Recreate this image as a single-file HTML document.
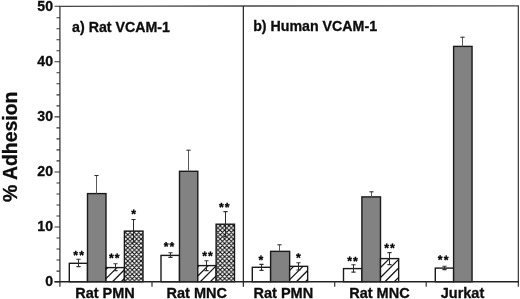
<!DOCTYPE html>
<html lang="en"><head><meta charset="utf-8"><title>% Adhesion</title>
<style>
html,body{margin:0;padding:0;background:#fff;}
body{width:520px;height:299px;overflow:hidden;}
svg{display:block;}
text{font-family:"Liberation Sans",Arial,Helvetica,sans-serif;font-weight:bold;fill:#0d0d0d;stroke:#0d0d0d;stroke-width:0.3px;}
text.s{stroke:#000;stroke-width:0.35px;stroke-linejoin:miter;fill:#000;}
</style></head><body>
<svg width="520" height="299" viewBox="0 0 520 299">
<defs>
<pattern id="xh" width="4.4" height="4.4" patternUnits="userSpaceOnUse" patternTransform="translate(215.8 225.8)">
<rect width="4.4" height="4.4" fill="#fff"/>
<path d="M-1 5.4 L5.4 -1 M-1 -1 L5.4 5.4 M-1 3.4 L1 5.4 M3.4 -1 L5.4 1 M-1 1 L1 -1 M3.4 5.4 L5.4 3.4" stroke="#0a0a0a" stroke-width="1.05" fill="none"/>
</pattern>
</defs>
<rect width="520" height="299" fill="#fff"/>

<path d="M59.20 6.3 L150 6.05 L518.35 5.9 V286.7" fill="none" stroke="#444" stroke-width="1.3"/>
<path d="M59.9 6.3 V286.7" fill="none" stroke="#484848" stroke-width="1.4"/>
<path d="M243.35 5.9 V286.7" fill="none" stroke="#2a2a2a" stroke-width="1.25"/>
<path d="M54.5 281.70H59.9M56.5 271.08H59.9M56.5 260.07H59.9M56.5 249.05H59.9M56.5 238.04H59.9M54.5 227.02H59.9M56.5 216.00H59.9M56.5 204.99H59.9M56.5 193.97H59.9M56.5 182.96H59.9M54.5 171.94H59.9M56.5 160.92H59.9M56.5 149.91H59.9M56.5 138.89H59.9M56.5 127.88H59.9M54.5 116.86H59.9M56.5 105.84H59.9M56.5 94.83H59.9M56.5 83.81H59.9M56.5 72.80H59.9M54.5 61.78H59.9M56.5 50.76H59.9M56.5 39.75H59.9M56.5 28.73H59.9M56.5 17.72H59.9M54.5 6.30H59.9" fill="none" stroke="#333" stroke-width="1.1"/>
<path d="M152.0 281.7V286.7M334.7 281.7V286.7M426.2 281.7V286.7" fill="none" stroke="#333" stroke-width="1.2"/>
<text x="53" y="286.3" font-size="14.1" text-anchor="end">0</text>
<text x="53" y="231.2" font-size="14.1" text-anchor="end">10</text>
<text x="53" y="176.1" font-size="14.1" text-anchor="end">20</text>
<text x="53" y="121.1" font-size="14.1" text-anchor="end">30</text>
<text x="53" y="66.0" font-size="14.1" text-anchor="end">40</text>
<text x="53" y="10.9" font-size="14.1" text-anchor="end">50</text>
<rect x="69.30" y="263.30" width="18.20" height="18.40" fill="#fff" stroke="#1a1a1a" stroke-width="1.4"/>
<rect x="87.50" y="193.60" width="18.50" height="88.10" fill="#828282" stroke="#1a1a1a" stroke-width="1.4"/>
<rect x="106.00" y="267.60" width="18.40" height="14.10" fill="#fff" stroke="#1a1a1a" stroke-width="1.4"/>
<path d="M106.0 269.3L107.7 267.6M106.0 278.6L117.0 267.6M112.5 281.7L124.4 269.8M121.2 281.7L124.4 278.5" fill="none" stroke="#161616" stroke-width="1.3"/>
<rect x="124.40" y="231.10" width="18.60" height="50.60" fill="url(#xh)" stroke="#1a1a1a" stroke-width="1.4"/>
<rect x="161.00" y="255.40" width="18.50" height="26.30" fill="#fff" stroke="#1a1a1a" stroke-width="1.4"/>
<rect x="179.50" y="171.30" width="18.30" height="110.40" fill="#828282" stroke="#1a1a1a" stroke-width="1.4"/>
<rect x="197.80" y="265.60" width="18.30" height="16.10" fill="#fff" stroke="#1a1a1a" stroke-width="1.4"/>
<path d="M197.8 266.7L198.9 265.6M197.8 276.0L208.2 265.6M200.3 281.7L216.1 265.9M210.3 281.7L216.1 275.9" fill="none" stroke="#161616" stroke-width="1.3"/>
<rect x="216.10" y="224.20" width="18.40" height="57.50" fill="url(#xh)" stroke="#1a1a1a" stroke-width="1.4"/>
<rect x="252.30" y="267.30" width="18.30" height="14.40" fill="#fff" stroke="#1a1a1a" stroke-width="1.4"/>
<rect x="270.60" y="251.35" width="19.05" height="30.35" fill="#828282" stroke="#1a1a1a" stroke-width="1.4"/>
<rect x="289.65" y="266.35" width="18.00" height="15.35" fill="#fff" stroke="#1a1a1a" stroke-width="1.4"/>
<path d="M289.65 270.35L293.65 266.35M289.65 279.65L302.95 266.35M296.4 281.7L307.65 270.45M305.5 281.7L307.65 279.55" fill="none" stroke="#161616" stroke-width="1.3"/>
<rect x="343.50" y="268.60" width="18.40" height="13.10" fill="#fff" stroke="#1a1a1a" stroke-width="1.4"/>
<rect x="361.90" y="196.90" width="18.60" height="84.80" fill="#828282" stroke="#1a1a1a" stroke-width="1.4"/>
<rect x="380.50" y="258.60" width="18.15" height="23.10" fill="#fff" stroke="#1a1a1a" stroke-width="1.4"/>
<path d="M380.5 267.5L389.4 258.6M380.5 277.5L398.65 259.35M384.9 281.7L398.65 267.95M394.3 281.7L398.65 277.35" fill="none" stroke="#161616" stroke-width="1.3"/>
<rect x="435.30" y="268.10" width="18.30" height="13.60" fill="#fff" stroke="#1a1a1a" stroke-width="1.4"/>
<rect x="453.60" y="46.40" width="18.45" height="235.30" fill="#828282" stroke="#1a1a1a" stroke-width="1.4"/>
<path d="M78.5 259.3V266.6" fill="none" stroke="#2a2a2a" stroke-width="1.0"/>
<path d="M76.4 259.3h4.2M76.4 266.6h4.2" fill="none" stroke="#333" stroke-width="1.1"/>
<text class="s" transform="translate(78.60,259.20) rotate(0.6)" x="-5.25 0.55" y="0" font-size="12.0">**</text>
<path d="M96.5 175.5V193.6" fill="none" stroke="#5a5a5a" stroke-width="1.0"/>
<path d="M94.4 175.5h4.2" fill="none" stroke="#333" stroke-width="1.1"/>
<path d="M115.5 263.8V270.6" fill="none" stroke="#2a2a2a" stroke-width="1.0"/>
<path d="M113.4 263.8h4.2M113.4 270.6h4.2" fill="none" stroke="#333" stroke-width="1.1"/>
<text class="s" transform="translate(114.30,262.05) rotate(0.6)" x="-5.25 0.55" y="0" font-size="12.0">**</text>
<path d="M133.5 219.5V242.2" fill="none" stroke="#2a2a2a" stroke-width="1.0"/>
<path d="M131.4 219.5h4.2M131.4 242.2h4.2" fill="none" stroke="#333" stroke-width="1.1"/>
<text class="s" transform="translate(133.60,218.05) rotate(0.6)" x="-2.35" y="0" font-size="12.0">*</text>
<path d="M170.5 252.8V257.4" fill="none" stroke="#2a2a2a" stroke-width="1.0"/>
<path d="M168.4 252.8h4.2M168.4 257.4h4.2" fill="none" stroke="#333" stroke-width="1.1"/>
<text class="s" transform="translate(168.90,250.55) rotate(0.6)" x="-5.25 0.55" y="0" font-size="12.0">**</text>
<path d="M188.5 150.2V171.3" fill="none" stroke="#5a5a5a" stroke-width="1.0"/>
<path d="M186.4 150.2h4.2" fill="none" stroke="#333" stroke-width="1.1"/>
<path d="M206.5 260.8V270.6" fill="none" stroke="#2a2a2a" stroke-width="1.0"/>
<path d="M204.4 260.8h4.2M204.4 270.6h4.2" fill="none" stroke="#333" stroke-width="1.1"/>
<text class="s" transform="translate(207.40,260.05) rotate(0.6)" x="-5.25 0.55" y="0" font-size="12.0">**</text>
<path d="M225.5 211.6V236.6" fill="none" stroke="#2a2a2a" stroke-width="1.0"/>
<path d="M223.4 211.6h4.2M223.4 236.6h4.2" fill="none" stroke="#333" stroke-width="1.1"/>
<text class="s" transform="translate(224.20,211.35) rotate(0.6)" x="-5.25 0.55" y="0" font-size="12.0">**</text>
<path d="M261.5 264.4V270.4" fill="none" stroke="#2a2a2a" stroke-width="1.0"/>
<path d="M259.4 264.4h4.2M259.4 270.4h4.2" fill="none" stroke="#333" stroke-width="1.1"/>
<text class="s" transform="translate(260.90,263.95) rotate(0.6)" x="-2.35" y="0" font-size="12.0">*</text>
<path d="M279.5 244.8V251.3" fill="none" stroke="#5a5a5a" stroke-width="1.0"/>
<path d="M277.4 244.8h4.2" fill="none" stroke="#333" stroke-width="1.1"/>
<path d="M298.5 262.7V270.0" fill="none" stroke="#2a2a2a" stroke-width="1.0"/>
<path d="M296.4 262.7h4.2M296.4 270.0h4.2" fill="none" stroke="#333" stroke-width="1.1"/>
<text class="s" transform="translate(298.40,261.65) rotate(0.6)" x="-2.35" y="0" font-size="12.0">*</text>
<path d="M353.5 264.8V272.1" fill="none" stroke="#2a2a2a" stroke-width="1.0"/>
<path d="M351.4 264.8h4.2M351.4 272.1h4.2" fill="none" stroke="#333" stroke-width="1.1"/>
<text class="s" transform="translate(352.50,265.15) rotate(0.6)" x="-5.25 0.55" y="0" font-size="12.0">**</text>
<path d="M371.5 191.8V196.9" fill="none" stroke="#5a5a5a" stroke-width="1.0"/>
<path d="M369.4 191.8h4.2" fill="none" stroke="#333" stroke-width="1.1"/>
<path d="M389.5 252.6V264.6" fill="none" stroke="#2a2a2a" stroke-width="1.0"/>
<path d="M387.4 252.6h4.2M387.4 264.6h4.2" fill="none" stroke="#333" stroke-width="1.1"/>
<text class="s" transform="translate(389.40,252.05) rotate(0.6)" x="-5.25 0.55" y="0" font-size="12.0">**</text>
<path d="M444.5 266.3V269.6" fill="none" stroke="#2a2a2a" stroke-width="1.0"/>
<path d="M442.4 266.3h4.2M442.4 269.6h4.2" fill="none" stroke="#333" stroke-width="1.1"/>
<text class="s" transform="translate(443.10,263.90) rotate(0.6)" x="-5.25 0.55" y="0" font-size="12.0">**</text>
<path d="M462.5 37.2V46.4" fill="none" stroke="#5a5a5a" stroke-width="1.0"/>
<path d="M460.4 37.2h4.2" fill="none" stroke="#333" stroke-width="1.1"/>
<path d="M54.5 281.7 H518.95" fill="none" stroke="#222" stroke-width="1.5"/>
<text x="105.0" y="297.6" font-size="14.5" text-anchor="middle">Rat PMN</text>
<text x="196.7" y="297.6" font-size="14.5" text-anchor="middle">Rat MNC</text>
<text x="283.3" y="297.6" font-size="14.5" text-anchor="middle">Rat PMN</text>
<text x="379.4" y="297.6" font-size="14.5" text-anchor="middle">Rat MNC</text>
<text x="462.5" y="297.6" font-size="14.5" text-anchor="middle">Jurkat</text>
<text transform="translate(72.1,32) scale(1.022,1)" font-size="13.9">a) Rat VCAM-1</text>
<text transform="translate(253.2,30.9) scale(1.022,1)" font-size="13.9">b) Human VCAM-1</text>
<text transform="translate(16.5,146.8) rotate(-90) scale(0.972,1.01)" font-size="20" text-anchor="middle">% Adhesion</text>
</svg></body></html>
